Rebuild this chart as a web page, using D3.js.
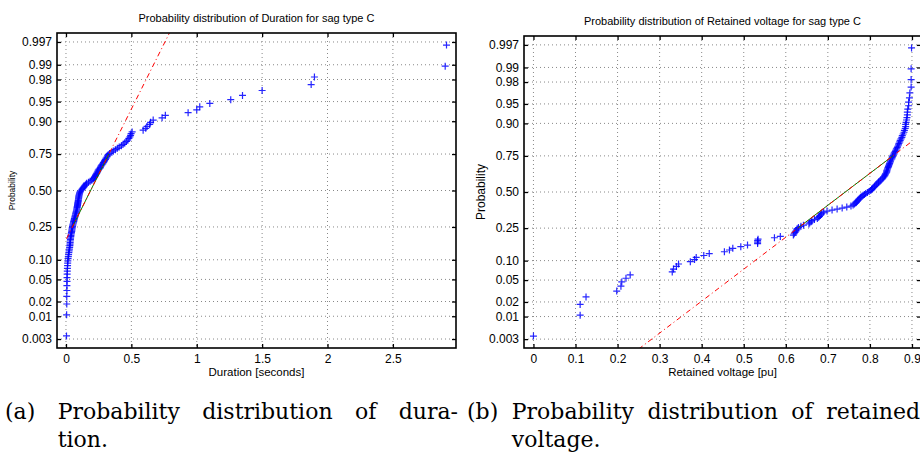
<!DOCTYPE html>
<html>
<head>
<meta charset="utf-8">
<script src="https://cdn.jsdelivr.net/npm/d3@7"></script>
<style>
  body { margin: 0; background: #fff; }
  svg { display: block; }
  .axis text { font-family: "Liberation Sans", Arial, sans-serif; font-size: 12px; fill: #000; }
  .axis line { stroke: #000; stroke-width: 1.3; }
  .label { font-family: "Liberation Sans", Arial, sans-serif; fill: #000; }
  .caption text { font-family: "DejaVu Serif", "Liberation Serif", serif; font-size: 22px; fill: #000; }
</style>
</head>
<body>
<svg id="chart" width="920" height="457"></svg>
<script>
// sorted sag durations in seconds (sag type C, 140 events)
const duration = [
  0.004, 0.005, 0.006, 0.006, 0.007, 0.007, 0.008, 0.008, 0.009, 0.010,
  0.011, 0.012, 0.013, 0.014, 0.016, 0.018, 0.020, 0.022, 0.024, 0.026,
  0.028, 0.030, 0.031, 0.032, 0.033, 0.034, 0.035, 0.037, 0.038, 0.040,
  0.042, 0.044, 0.045, 0.047, 0.048, 0.050, 0.052, 0.054, 0.057, 0.059,
  0.061, 0.063, 0.065, 0.068, 0.070, 0.072, 0.074, 0.076, 0.078, 0.080,
  0.082, 0.083, 0.085, 0.086, 0.088, 0.089, 0.090, 0.091, 0.093, 0.094,
  0.095, 0.096, 0.097, 0.098, 0.099, 0.101, 0.103, 0.105, 0.108, 0.111,
  0.118, 0.124, 0.130, 0.136, 0.141, 0.147, 0.153, 0.158, 0.172, 0.185,
  0.197, 0.206, 0.212, 0.218, 0.222, 0.226, 0.230, 0.235, 0.239, 0.243,
  0.247, 0.253, 0.260, 0.264, 0.269, 0.274, 0.281, 0.286, 0.292, 0.296,
  0.302, 0.307, 0.313, 0.318, 0.323, 0.333, 0.351, 0.362, 0.378, 0.393,
  0.407, 0.424, 0.437, 0.450, 0.462, 0.473, 0.481, 0.489, 0.494, 0.498,
  0.506, 0.590, 0.610, 0.620, 0.640, 0.647, 0.667, 0.735, 0.760, 0.934,
  1.000, 1.023, 1.100, 1.260, 1.350, 1.500, 1.875, 1.900, 2.900, 2.910
];

// sorted retained voltages in pu (same 140 events)
const retained = [
  0.000, 0.111, 0.111, 0.125, 0.198, 0.208, 0.210, 0.220, 0.230, 0.330,
  0.333, 0.340, 0.345, 0.373, 0.383, 0.387, 0.405, 0.418, 0.454, 0.466,
  0.474, 0.493, 0.509, 0.533, 0.533, 0.533, 0.534, 0.573, 0.587, 0.618,
  0.620, 0.622, 0.624, 0.626, 0.627, 0.630, 0.636, 0.642, 0.655, 0.657,
  0.660, 0.662, 0.668, 0.675, 0.678, 0.680, 0.682, 0.684, 0.686, 0.690,
  0.698, 0.710, 0.722, 0.734, 0.745, 0.755, 0.760, 0.763, 0.766, 0.768,
  0.770, 0.772, 0.774, 0.776, 0.778, 0.781, 0.784, 0.787, 0.790, 0.794,
  0.798, 0.802, 0.804, 0.806, 0.808, 0.811, 0.812, 0.815, 0.817, 0.820,
  0.821, 0.824, 0.826, 0.829, 0.831, 0.833, 0.835, 0.836, 0.837, 0.839,
  0.840, 0.840, 0.841, 0.842, 0.843, 0.844, 0.845, 0.846, 0.847, 0.848,
  0.849, 0.850, 0.852, 0.853, 0.854, 0.855, 0.857, 0.858, 0.860, 0.861,
  0.863, 0.865, 0.866, 0.868, 0.869, 0.871, 0.872, 0.874, 0.876, 0.877,
  0.879, 0.881, 0.882, 0.884, 0.885, 0.885, 0.886, 0.887, 0.888, 0.889,
  0.889, 0.890, 0.892, 0.892, 0.894, 0.895, 0.898, 0.898, 0.898, 0.899
];

const probTicks  = [0.003, 0.01, 0.02, 0.05, 0.10, 0.25, 0.50, 0.75, 0.90, 0.95, 0.98, 0.99, 0.997];
const probLabels = ["0.003", "0.01", "0.02", "0.05", "0.10", "0.25", "0.50", "0.75", "0.90", "0.95", "0.98", "0.99", "0.997"];
const durTicks  = [0, 0.5, 1, 1.5, 2, 2.5];
const voltTicks = [0, 0.1, 0.2, 0.3, 0.4, 0.5, 0.6, 0.7, 0.8, 0.9];

const svg = d3.select("#chart");
svg.append("rect").attr("width", 920).attr("height", 457).attr("fill", "#fff");

// inverse standard normal cdf (Acklam's approximation)
function norminv(p) {
  const a = [-3.969683028665376e+01, 2.209460984245205e+02, -2.759285104469687e+02, 1.383577518672690e+02, -3.066479806614716e+01, 2.506628277459239e+00];
  const b = [-5.447609879822406e+01, 1.615858368580409e+02, -1.556989798598866e+02, 6.680131188771972e+01, -1.328068155288572e+01];
  const c = [-7.784894002430293e-03, -3.223964580411365e-01, -2.400758277161838e+00, -2.549732539343734e+00, 4.374664141464968e+00, 2.938163982698783e+00];
  const d = [7.784695709041462e-03, 3.224671290700398e-01, 2.445134137142996e+00, 3.754408661907416e+00];
  const pl = 0.02425;
  if (p < pl) {
    const q = Math.sqrt(-2 * Math.log(p));
    return (((((c[0]*q+c[1])*q+c[2])*q+c[3])*q+c[4])*q+c[5]) / ((((d[0]*q+d[1])*q+d[2])*q+d[3])*q+1);
  }
  if (p > 1 - pl) {
    const q = Math.sqrt(-2 * Math.log(1 - p));
    return -(((((c[0]*q+c[1])*q+c[2])*q+c[3])*q+c[4])*q+c[5]) / ((((d[0]*q+d[1])*q+d[2])*q+d[3])*q+1);
  }
  const q = p - 0.5, r = q * q;
  return (((((a[0]*r+a[1])*r+a[2])*r+a[3])*r+a[4])*r+a[5])*q / (((((b[0]*r+b[1])*r+b[2])*r+b[3])*r+b[4])*r+1);
}

// matlab style percentile of a sorted array
function prctile(s, pc) {
  const n = s.length;
  const pos = n * pc / 100 + 0.5;
  if (pos <= 1) return s[0];
  if (pos >= n) return s[n - 1];
  const i = Math.floor(pos), f = pos - i;
  return s[i - 1] + f * (s[i] - s[i - 1]);
}

let clipId = 0;

function normplot(data, o) {
  const n = data.length;
  const xv = data.slice().sort(d3.ascending);
  const pts = xv.map((v, i) => ({ x: v, z: norminv((i + 0.5) / n) }));
  const span = xv[n - 1] - xv[0];

  const xs = d3.scaleLinear()
    .domain([xv[0] - 0.025 * span, xv[n - 1] + 0.025 * span])
    .range([o.left, o.right]);
  const zlim = norminv(0.25 / n);
  const ys = d3.scaleLinear().domain([zlim, -zlim]).range([o.bottom, o.top]);
  const zTicks = probTicks.map(norminv);

  const g = svg.append("g");

  // dotted grid
  const grid = g.append("g").attr("stroke", "#888").attr("stroke-width", 1)
    .attr("stroke-dasharray", "1,3").attr("fill", "none");
  grid.selectAll(".gx").data(o.xticks).enter().append("line")
    .attr("x1", d => xs(d)).attr("x2", d => xs(d))
    .attr("y1", o.top).attr("y2", o.bottom);
  grid.selectAll(".gy").data(zTicks).enter().append("line")
    .attr("x1", o.left).attr("x2", o.right)
    .attr("y1", d => ys(d)).attr("y2", d => ys(d));

  // axes with inward ticks on all four sides
  const left = g.append("g").attr("class", "axis").attr("transform", `translate(${o.left},0)`)
    .call(d3.axisLeft(ys).tickValues(zTicks).tickFormat((d, i) => probLabels[i])
      .tickSizeInner(-4).tickSizeOuter(0).tickPadding(5));
  const right = g.append("g").attr("class", "axis").attr("transform", `translate(${o.right},0)`)
    .call(d3.axisRight(ys).tickValues(zTicks).tickFormat("").tickSizeInner(-4).tickSizeOuter(0));
  const bottom = g.append("g").attr("class", "axis").attr("transform", `translate(0,${o.bottom})`)
    .call(d3.axisBottom(xs).tickValues(o.xticks).tickFormat(d => String(d))
      .tickSizeInner(-4).tickSizeOuter(0).tickPadding(6));
  const top = g.append("g").attr("class", "axis").attr("transform", `translate(0,${o.top})`)
    .call(d3.axisTop(xs).tickValues(o.xticks).tickFormat("").tickSizeInner(-4).tickSizeOuter(0));
  [left, right, bottom, top].forEach(a => a.select(".domain").remove());

  // plot area
  const id = "clip" + (clipId++);
  g.append("clipPath").attr("id", id).append("rect")
    .attr("x", o.left).attr("y", o.top)
    .attr("width", o.right - o.left).attr("height", o.bottom - o.top);
  const plot = g.append("g").attr("clip-path", `url(#${id})`);

  plot.selectAll(".pt").data(pts).enter().append("path")
    .attr("class", "pt")
    .attr("transform", d => `translate(${xs(d.x)},${ys(d.z)})`)
    .attr("d", "M-3.5,0H3.5M0,-3.5V3.5")
    .attr("stroke", "#0000ff").attr("stroke-width", 1.2).attr("stroke-opacity", 0.85)
    .attr("fill", "none");

  // quartile fit line, extended to the data range
  const zs = pts.map(p => p.z);
  const qx = [prctile(xv, 25), prctile(xv, 75)];
  const qz = [prctile(zs, 25), prctile(zs, 75)];
  const slope = (qz[1] - qz[0]) / (qx[1] - qx[0]);
  const cx = (qx[0] + qx[1]) / 2, cz = (qz[0] + qz[1]) / 2;
  const ext = [
    { x: xv[0], z: cz - slope * (cx - xv[0]) },
    { x: xv[n - 1], z: cz + slope * (xv[n - 1] - cx) }
  ];
  const line = d3.line().x(d => xs(d.x)).y(d => ys(d.z));
  plot.append("path").datum([{ x: qx[0], z: qz[0] }, { x: qx[1], z: qz[1] }])
    .attr("d", line).attr("fill", "none").attr("stroke", "#008000").attr("stroke-width", 1);
  plot.append("path").datum(ext)
    .attr("d", line).attr("fill", "none").attr("stroke", "#ff0000").attr("stroke-width", 1)
    .attr("stroke-dasharray", "5,3,1,3");

  // frame
  g.append("rect").attr("x", o.left).attr("y", o.top)
    .attr("width", o.right - o.left).attr("height", o.bottom - o.top)
    .attr("fill", "none").attr("stroke", "#000").attr("stroke-width", 1.6);

  // texts
  const mid = (o.left + o.right) / 2;
  g.append("text").attr("class", "label").attr("x", mid).attr("y", o.top - 11)
    .attr("text-anchor", "middle").attr("font-size", 11).text(o.title);
  g.append("text").attr("class", "label").attr("x", mid).attr("y", 376)
    .attr("text-anchor", "middle").attr("font-size", 11.5).text(o.xlabel);
  g.append("text").attr("class", "label")
    .attr("transform", `translate(${o.ylabelX},${(o.top + o.bottom) / 2}) rotate(-90)`)
    .attr("text-anchor", "middle").attr("font-size", o.ylabelSize).text("Probability");
}

normplot(duration, {
  left: 57, right: 456, top: 33, bottom: 348,
  xticks: durTicks,
  title: "Probability distribution of Duration for sag type C",
  xlabel: "Duration [seconds]",
  ylabelX: 15, ylabelSize: 8.5
});

normplot(retained, {
  left: 524, right: 921, top: 36, bottom: 348,
  xticks: voltTicks,
  title: "Probability distribution of Retained voltage for sag type C",
  xlabel: "Retained voltage [pu]",
  ylabelX: 485, ylabelSize: 12
});

// sub-figure captions, justified word by word
const cap = svg.append("g").attr("class", "caption");

function captionLine(words, x0, x1, y) {
  const nodes = words.map(w => cap.append("text").attr("y", y).text(w));
  const widths = nodes.map(t => t.node().getComputedTextLength());
  const gap = words.length > 1 ? (x1 - x0 - d3.sum(widths)) / (words.length - 1) : 0;
  let cx = x0;
  const xs = [];
  nodes.forEach((t, i) => { t.attr("x", cx); xs.push(cx); cx += widths[i] + gap; });
  return xs;
}

const aPos = captionLine(["(a)", "Probability", "distribution", "of", "dura-"], 5, 458, 419);
captionLine(["tion."], aPos[1], aPos[1], 447);
const bPos = captionLine(["(b)", "Probability", "distribution", "of", "retained"], 467, 920, 419);
captionLine(["voltage."], bPos[1], bPos[1], 447);
</script>
</body>
</html>
